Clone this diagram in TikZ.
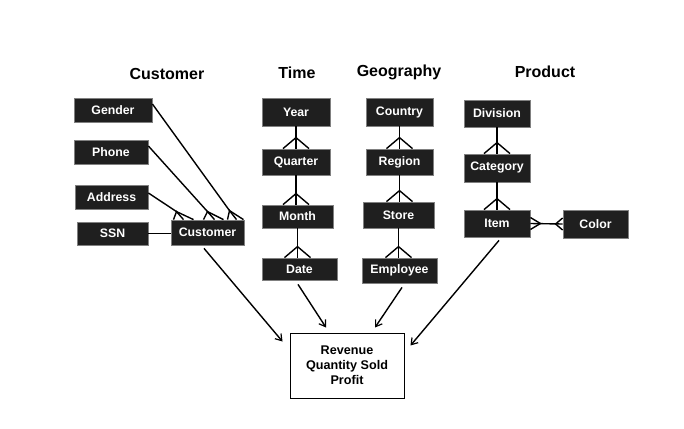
\documentclass[tikz,border=0pt]{standalone}
\usepackage{fontspec}
\setmainfont{Liberation Sans}
\usetikzlibrary{arrows.meta,calc}
\begin{document}
\begin{tikzpicture}[x=1pt,y=-1pt,
  ent/.style={rectangle,fill=black!88,draw=black!50,line width=0.8pt,text=white,font=\bfseries\fontsize{12.3}{14}\selectfont,inner sep=0pt},
  ttl/.style={font=\bfseries\fontsize{16}{18}\selectfont},
  conn/.style={line width=1.4pt,black},
  arr/.style={line width=1.4pt,black,-{Straight Barb[length=6pt,width=8pt,line width=1.2pt]}},
  fact/.style={rectangle,draw=black,line width=1pt,fill=white,align=center,font=\bfseries\fontsize{12.6}{14.8}\selectfont,inner sep=0pt}]
\useasboundingbox (0,0) rectangle (684,428);
\fill[white] (0,0) rectangle (684,428);
% titles
\node[ttl] (tcust) at (167,74) {Customer};
\node[ttl] (ttime) at (297,73) {Time};
\node[ttl] (tgeo) at (399,72) {Geography};
\node[ttl] (tprod) at (545,72) {Product};
% customer
\node[ent,minimum width=78pt,minimum height=24pt] (gender) at (113,110) {Gender};
\node[ent,minimum width=74pt,minimum height=24pt] (phone) at (111,152) {Phone};
\node[ent,minimum width=73pt,minimum height=24pt] (address) at (111.5,197) {Address};
\node[ent,minimum width=71pt,minimum height=23pt] (ssn) at (112.5,233.5) {SSN};
\node[ent,minimum width=73pt,minimum height=25pt] (cust) at (207.5,232.5) {Customer};
% time
\node[ent,minimum width=68pt,minimum height=28pt] (year) at (296,112) {Year};
\node[ent,minimum width=68pt,minimum height=26pt] (quarter) at (296,162) {Quarter};
\node[ent,minimum width=71pt,minimum height=23pt] (month) at (297.5,216.5) {Month};
\node[ent,minimum width=75pt,minimum height=22pt] (date) at (299.5,269) {Date};
% geography
\node[ent,minimum width=67pt,minimum height=28pt] (country) at (399.5,112) {Country};
\node[ent,minimum width=67pt,minimum height=26pt] (region) at (399.5,162) {Region};
\node[ent,minimum width=71pt,minimum height=26pt] (store) at (398.5,215) {Store};
\node[ent,minimum width=75pt,minimum height=25pt] (employee) at (399.5,270.5) {Employee};
% product
\node[ent,minimum width=66pt,minimum height=27pt] (division) at (497,113.5) {Division};
\node[ent,minimum width=66pt,minimum height=28pt] (category) at (497,168) {Category};
\node[ent,minimum width=66pt,minimum height=27pt] (item) at (497,223.5) {Item};
\node[ent,minimum width=65pt,minimum height=28pt] (color) at (595.5,224) {Color};
% fact
\node[fact,minimum width=114pt,minimum height=65pt] (fact) at (347,365.5) {Revenue\\Quantity Sold\\Profit};
% hierarchies with crow's feet
\foreach \a/\b in {year/quarter,quarter/month,month/date,country/region,region/store,store/employee,division/category,category/item}{
  \draw[conn] (\a.south) -- (\a.south |- \b.north);
  \coordinate (cf) at ($(\a.south |- \b.north)+(0,-11)$);
  \draw[conn] ($(\a.south |- \b.north)+(-13,0)$) -- (cf) -- ($(\a.south |- \b.north)+(13,0)$);
}
% item - color many to many
\draw[conn] (item.east) -- (color.west);
\draw[conn] ($(item.east)+(0,-6)$) -- ($(item.east)+(10,0)$) -- ($(item.east)+(0,6)$);
\draw[conn] ($(color.west)+(0,-6)$) -- ($(color.west)+(-7,0)$) -- ($(color.west)+(0,6)$);
% customer attributes
\draw[conn] (ssn.east) -- (cust.west |- ssn.east);
\draw[conn] ($(gender.east)+(0,-6)$) -- ($(cust.north)+(22,-9)$);
\draw[conn] ($(cust.north)+(20,0)$) -- ($(cust.north)+(22,-9)$) -- ($(cust.north)+(29,0)$);
\draw[conn] ($(cust.north)+(22,-9)$) -- ($(cust.north)+(36,0)$);
\draw[conn] ($(phone.east)+(0,-6)$) -- ($(cust.north)+(0,-8)$);
\draw[conn] ($(cust.north)+(-4,0)$) -- ($(cust.north)+(0,-8)$) -- ($(cust.north)+(7,0)$);
\draw[conn] ($(cust.north)+(0,-8)$) -- ($(cust.north)+(16,0)$);
\draw[conn] ($(address.east)+(0,-4)$) -- ($(cust.north)+(-31,-8)$);
\draw[conn] ($(cust.north)+(-34,0)$) -- ($(cust.north)+(-31,-8)$) -- ($(cust.north)+(-24,0)$);
\draw[conn] ($(cust.north)+(-31,-8)$) -- ($(cust.north)+(-14,0)$);
% arrows to fact
\coordinate (e1) at ($(fact.north west)+(-7,9)$);
\coordinate (e2) at ($(fact.north)+(-21,-5)$);
\coordinate (e3) at ($(fact.north)+(28,-5)$);
\coordinate (e4) at ($(fact.north east)+(6,13)$);
\draw[arr] ($(cust.south)+(-3.5,3)$) -- (e1);
\draw[arr] ($(date.south)+(-1.5,4)$) -- (e2);
\draw[arr] ($(employee.south)+(2.5,4)$) -- (e3);
\draw[arr] ($(item.south)+(2,3)$) -- (e4);
\end{tikzpicture}
\end{document}
